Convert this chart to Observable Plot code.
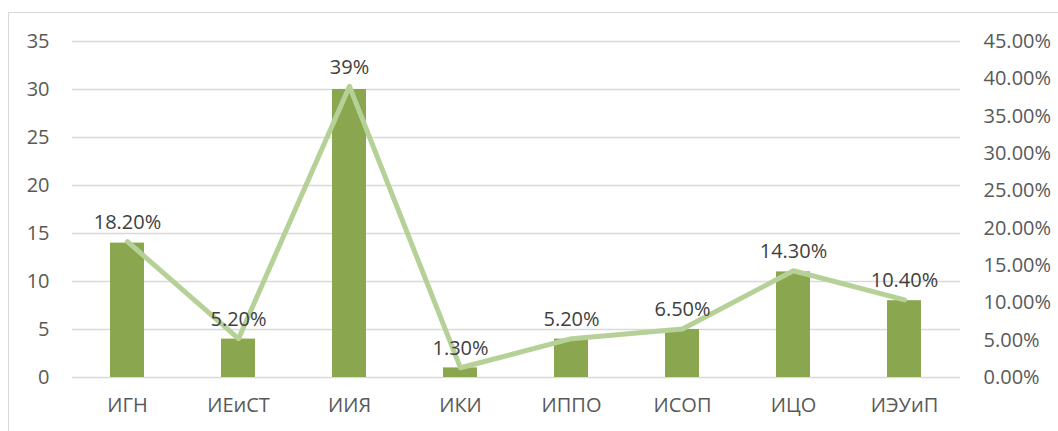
<!DOCTYPE html>
<html>
<head>
<meta charset="utf-8">
<script src="https://cdn.jsdelivr.net/npm/d3@7"></script>
<script src="https://cdn.jsdelivr.net/npm/@observablehq/plot@0.6"></script>
<style>
  html, body { margin: 0; padding: 0; background: #fff; overflow: hidden; }
  #wrap { position: relative; width: 1058px; height: 431px; }
  #frame { position: absolute; left: 8px; top: 12px; width: 1100px; height: 500px;
           border: 1.5px solid #d9d9d9; box-sizing: border-box; pointer-events: none; }
  #chart { position: absolute; left: 0; top: 0; }
</style>
</head>
<body>
<div id="wrap"><div id="frame"></div><div id="chart"></div></div>
<script>
const categories = ["ИГН", "ИЕиСТ", "ИИЯ", "ИКИ", "ИППО", "ИСОП", "ИЦО", "ИЭУиП"];
const counts = [14, 4, 30, 1, 4, 5, 11, 8];
const shares = [18.2, 5.2, 39, 1.3, 5.2, 6.5, 14.3, 10.4];
const shareLabels = ["18.20%", "5.20%", "39%", "1.30%", "5.20%", "6.50%", "14.30%", "10.40%"];
const leftTicks = [0, 5, 10, 15, 20, 25, 30, 35];
const rightTicks = [0, 5, 10, 15, 20, 25, 30, 35, 40, 45];

const LEFT_MAX = 35, RIGHT_MAX = 45;
const toLeft = p => p * LEFT_MAX / RIGHT_MAX;

const data = categories.map((c, i) => ({cat: c, count: counts[i], share: shares[i], label: shareLabels[i]}));

const font = "'Open Sans', 'Noto Sans', sans-serif";
const FS = 20;

const chart = Plot.plot({
  width: 1058,
  height: 431,
  marginTop: 41,
  marginBottom: 54,
  marginLeft: 72,
  marginRight: 98,
  style: {fontFamily: font, background: "transparent", overflow: "visible"},
  x: {type: "band", domain: categories, paddingInner: 0.69, paddingOuter: 0.345, label: null},
  y: {domain: [0, LEFT_MAX], label: null},
  marks: [
    Plot.gridY(leftTicks, {stroke: "#d9d9d9", strokeOpacity: 1, strokeWidth: 1.5}),
    Plot.barY(data, {x: "cat", y: "count", fill: "#8aa64f"}),
    Plot.line(data, {x: "cat", y: d => toLeft(d.share), stroke: "#b6d198", strokeWidth: 5,
                     strokeLinejoin: "round", strokeLinecap: "round"}),
    Plot.text(data, {x: "cat", y: d => toLeft(d.share), text: "label", dy: -19,
                     fontSize: FS, fill: "#404040"}),
    Plot.axisY(leftTicks, {anchor: "left", tickSize: 0, tickPadding: 23, fontSize: FS,
                           color: "#595959", label: null}),
    Plot.axisY(rightTicks.map(toLeft), {anchor: "right", tickSize: 0, tickPadding: 23, fontSize: FS,
                           color: "#595959", label: null,
                           tickFormat: v => (v * RIGHT_MAX / LEFT_MAX).toFixed(2) + "%"}),
    Plot.axisX({tickSize: 0, tickPadding: 20, fontSize: FS, color: "#595959", label: null})
  ]
});
document.getElementById("chart").appendChild(chart);
</script>
</body>
</html>
